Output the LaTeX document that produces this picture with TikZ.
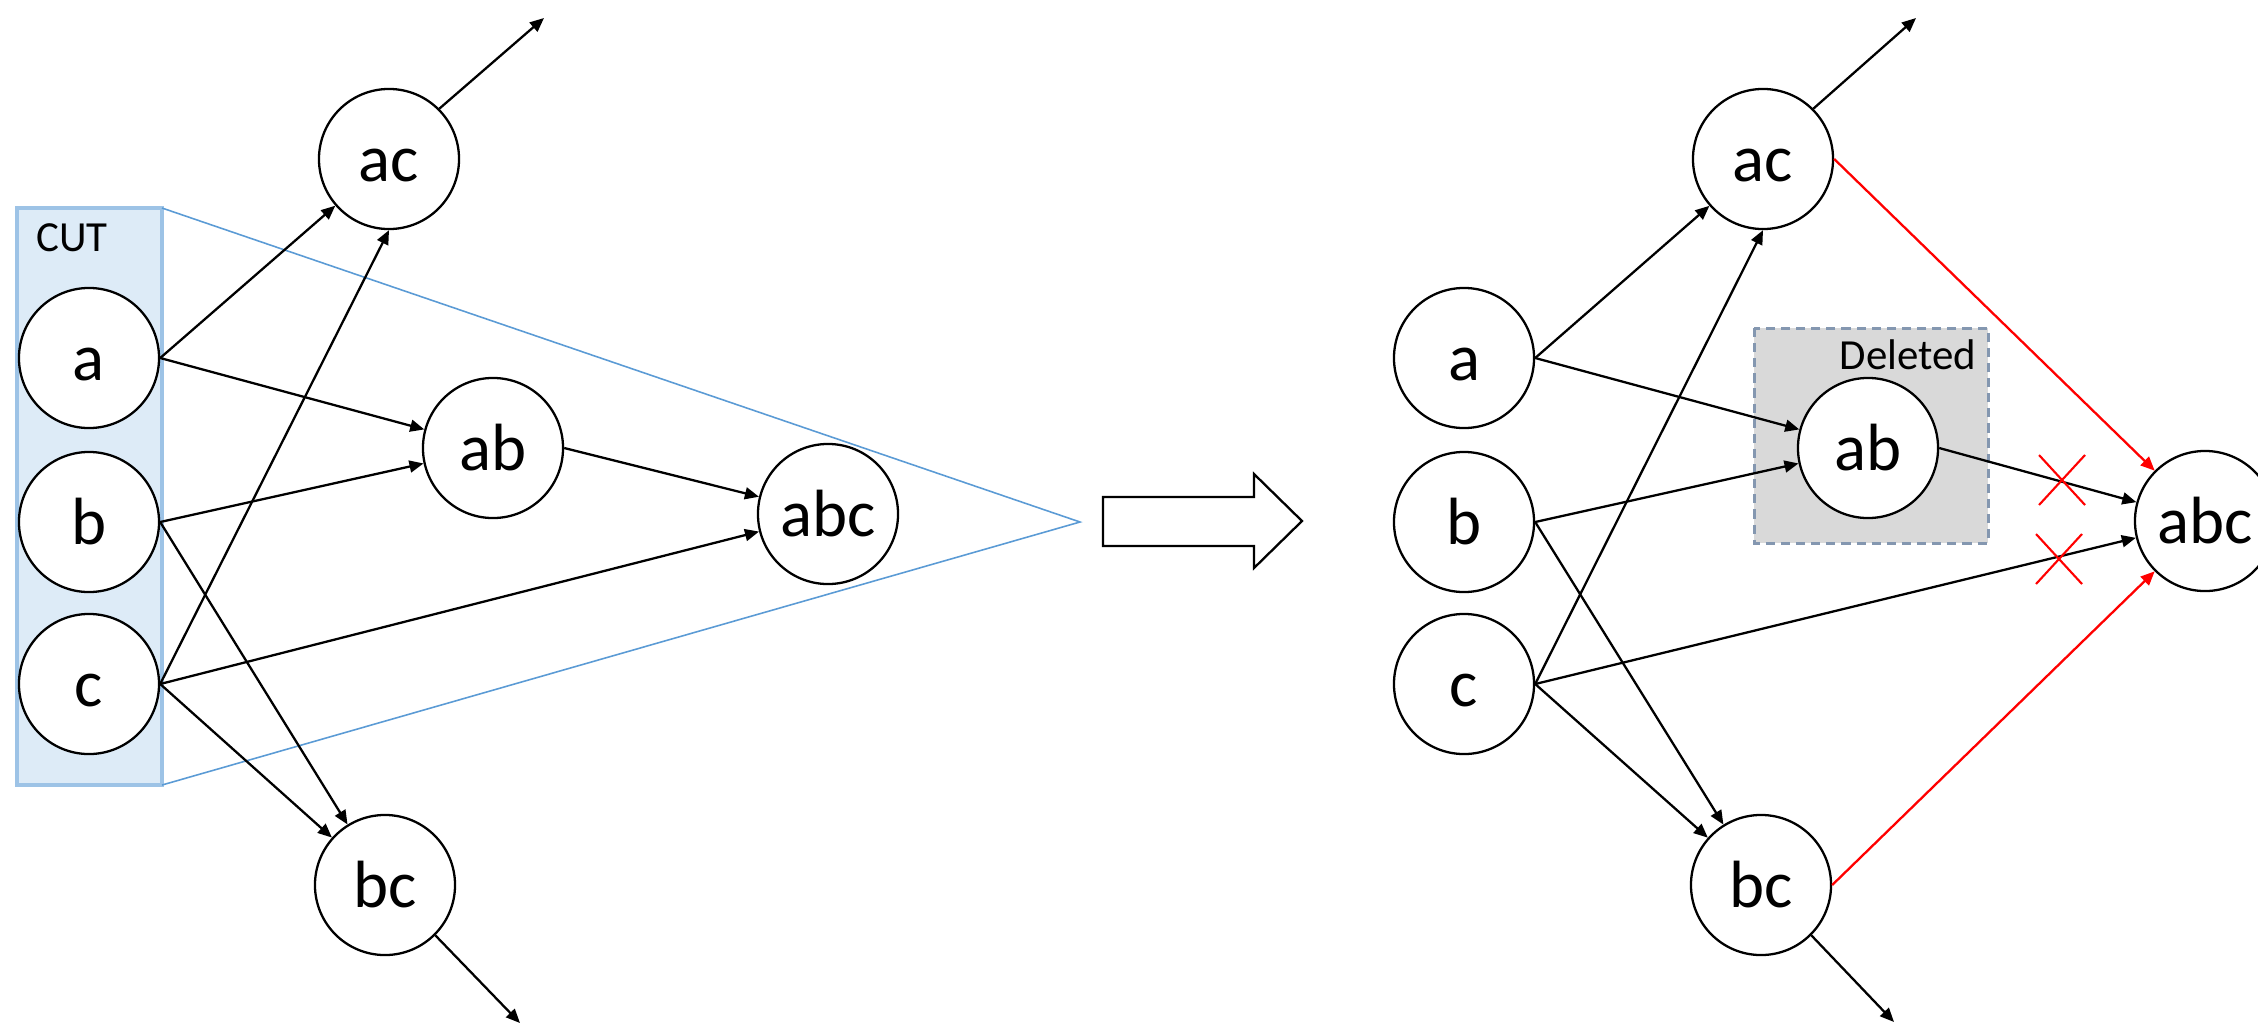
\documentclass[tikz,border=0pt]{standalone}
\usepackage{fontspec}
\setmainfont{Carlito}
\usetikzlibrary{arrows.meta}
\definecolor{cutfill}{RGB}{221,235,247}
\definecolor{cutedge}{RGB}{157,195,230}
\definecolor{cutline}{RGB}{91,155,213}
\definecolor{delfill}{RGB}{217,217,217}
\definecolor{deledge}{RGB}{132,151,176}
\definecolor{pruned}{RGB}{255,0,0}

\begin{document}
\begin{tikzpicture}[x=0.01cm,y=-0.01cm,
  vertex/.style={circle,draw=black,line width=0.65pt,fill=white,minimum size=1.4cm,
    inner sep=0pt,font=\fontsize{19}{22}\selectfont,execute at begin node=\vphantom{b}},
  link/.style={line width=0.65pt,-{Triangle[length=4pt,width=3.4pt]}},
  prunelink/.style={link,draw=pruned,fill=pruned},
  cutmark/.style={draw=pruned,line width=0.6pt},
  boxlabel/.style={font=\fontsize{12.2}{14}\selectfont,inner sep=0pt}]

\useasboundingbox (0,0) rectangle (2258,1030);

% ---------- left: lattice with the cut ----------
\fill[cutfill] (17,208) rectangle (162,785);
\draw[cutedge,line width=0.9pt] (17,208) rectangle (162,785);
\draw[cutline,line width=0.45pt] (162,208) -- (1080,522) -- (162,785);
\node[boxlabel] (cut) at (72,238) {CUT};

\node[vertex] (La)   at (89,358)  {a};
\node[vertex] (Lb)   at (89,522)  {b};
\node[vertex] (Lc)   at (89,684)  {c};
\node[vertex] (Lac)  at (389,159) {ac};
\node[vertex] (Lab)  at (493,448) {ab};
\node[vertex] (Labc) at (828,514) {abc};
\node[vertex] (Lbc)  at (385,885) {bc};
\coordinate (Lacout) at (544,18);
\coordinate (Lbcout) at (520,1023);

\draw[link] (La.east) -- (Lac);
\draw[link] (La.east) -- (Lab);
\draw[link] (Lb.east) -- (Lab);
\draw[link] (Lb.east) -- (Lbc);
\draw[link] (Lc.east) -- (Lac.south);
\draw[link] (Lc.east) -- (Labc);
\draw[link] (Lc.east) -- (Lbc);
\draw[link] (Lab.east) -- (Labc);
\draw[link] (Lac.north east) -- (Lacout);
\draw[link] (Lbc.south east) -- (Lbcout);

% ---------- transition arrow ----------
\draw[line width=0.65pt,fill=white] (1103,497) -- (1254,497) -- (1254,474) -- (1302,521)
  -- (1254,568) -- (1254,546) -- (1103,546) -- cycle;

% ---------- right: lattice after deleting ab ----------
\draw[deledge,fill=delfill,line width=0.85pt,dash pattern=on 2.6pt off 1.7pt]
  (1754,328) rectangle (1988,543);
\node[boxlabel,anchor=east] (del) at (1977,355) {Deleted};

\node[vertex] (Ra)   at (1464,358) {a};
\node[vertex] (Rb)   at (1464,522) {b};
\node[vertex] (Rc)   at (1464,684) {c};
\node[vertex] (Rac)  at (1763,159) {ac};
\node[vertex] (Rab)  at (1868,448) {ab};
\node[vertex] (Rabc) at (2205,521) {abc};
\node[vertex] (Rbc)  at (1761,885) {bc};
\coordinate (Racout) at (1916,18);
\coordinate (Rbcout) at (1894,1022);

\draw[link] (Ra.east) -- (Rac);
\draw[link] (Ra.east) -- (Rab);
\draw[link] (Rb.east) -- (Rab);
\draw[link] (Rb.east) -- (Rbc);
\draw[link] (Rc.east) -- (Rac.south);
\draw[link] (Rc.east) -- (Rabc);
\draw[link] (Rc.east) -- (Rbc);
\draw[link] (Rab.east) -- (Rabc);
\draw[link] (Rac.north east) -- (Racout);
\draw[link] (Rbc.south east) -- (Rbcout);

\draw[prunelink] (Rac.east) -- (Rabc.north west);
\draw[prunelink] (Rbc.east) -- (Rabc.south west);

% crosses on the removed edges
\draw[cutmark] (2039,455) -- (2085,505) (2039,505) -- (2085,455);
\draw[cutmark] (2036,534) -- (2082,584) (2036,584) -- (2082,534);

\end{tikzpicture}
\end{document}
